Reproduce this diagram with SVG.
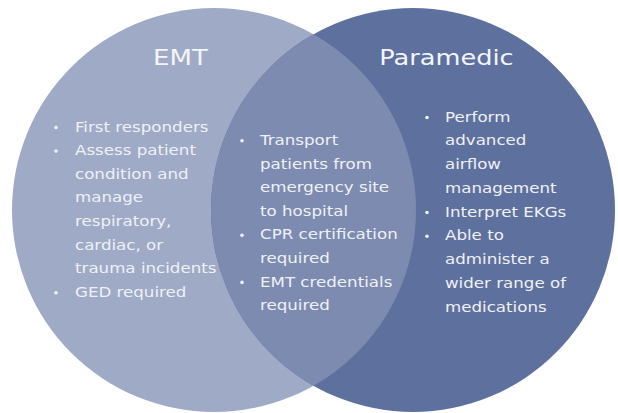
<svg xmlns="http://www.w3.org/2000/svg" width="618" height="413" viewBox="0 0 618 413">
<style>
  .title { font-family: "DejaVu Sans", "Liberation Sans", sans-serif; font-size: 21px; fill: #F3F5F9; text-anchor: middle; }
  .body { font-family: "DejaVu Sans", "Liberation Sans", sans-serif; font-size: 14.5px; fill: #EEF1F6; }
  .dot { fill: #EEF1F6; }
</style>
<rect width="618" height="413" fill="#FFFFFF"/>
<g id="emt">
  <circle cx="214" cy="210" r="202" fill="#9FAAC6"/>
</g>
<g id="paramedic">
  <circle cx="413" cy="210" r="202" fill="#5E709D"/>
</g>
<g id="both">
  <path d="M313.5,34.2 A202,202 0 0 1 313.5,385.8 A202,202 0 0 1 313.5,34.2 Z" fill="#7D8BB0"/>
</g>
<g id="emt-text">
  <text class="title" transform="translate(180.5,65) scale(1.24,1)" x="0" y="0">EMT</text>
  <circle class="dot" cx="56" cy="127.5" r="1.8"/>
  <circle class="dot" cx="56" cy="151.1" r="1.8"/>
  <circle class="dot" cx="56" cy="292.7" r="1.8"/>
  <g transform="translate(75,0) scale(1.15,1)">
    <text class="body" x="0" y="131.7">First responders</text>
    <text class="body" x="0" y="155.3">Assess patient</text>
    <text class="body" x="0" y="178.9">condition and</text>
    <text class="body" x="0" y="202.5">manage</text>
    <text class="body" x="0" y="226.1">respiratory,</text>
    <text class="body" x="0" y="249.7">cardiac, or</text>
    <text class="body" x="0" y="273.3">trauma incidents</text>
    <text class="body" x="0" y="296.9">GED required</text>
  </g>
</g>
<g id="both-text">
  <circle class="dot" cx="242" cy="140.8" r="1.8"/>
  <circle class="dot" cx="242" cy="235.2" r="1.8"/>
  <circle class="dot" cx="242" cy="282.4" r="1.8"/>
  <g transform="translate(260,0) scale(1.15,1)">
    <text class="body" x="0" y="145">Transport</text>
    <text class="body" x="0" y="168.6">patients from</text>
    <text class="body" x="0" y="192.2">emergency site</text>
    <text class="body" x="0" y="215.8">to hospital</text>
    <text class="body" x="0" y="239.4">CPR certification</text>
    <text class="body" x="0" y="263">required</text>
    <text class="body" x="0" y="286.6">EMT credentials</text>
    <text class="body" x="0" y="310.2">required</text>
  </g>
</g>
<g id="paramedic-text">
  <text class="title" transform="translate(446.5,65) scale(1.22,1)" x="0" y="0">Paramedic</text>
  <circle class="dot" cx="427" cy="117.5" r="1.8"/>
  <circle class="dot" cx="427" cy="212.5" r="1.8"/>
  <circle class="dot" cx="427" cy="236.2" r="1.8"/>
  <g transform="translate(445,0) scale(1.15,1)">
    <text class="body" x="0" y="121.7">Perform</text>
    <text class="body" x="0" y="145.45">advanced</text>
    <text class="body" x="0" y="169.2">airflow</text>
    <text class="body" x="0" y="192.95">management</text>
    <text class="body" x="0" y="216.7">Interpret EKGs</text>
    <text class="body" x="0" y="240.45">Able to</text>
    <text class="body" x="0" y="264.2">administer a</text>
    <text class="body" x="0" y="287.95">wider range of</text>
    <text class="body" x="0" y="311.7">medications</text>
  </g>
</g>
</svg>
